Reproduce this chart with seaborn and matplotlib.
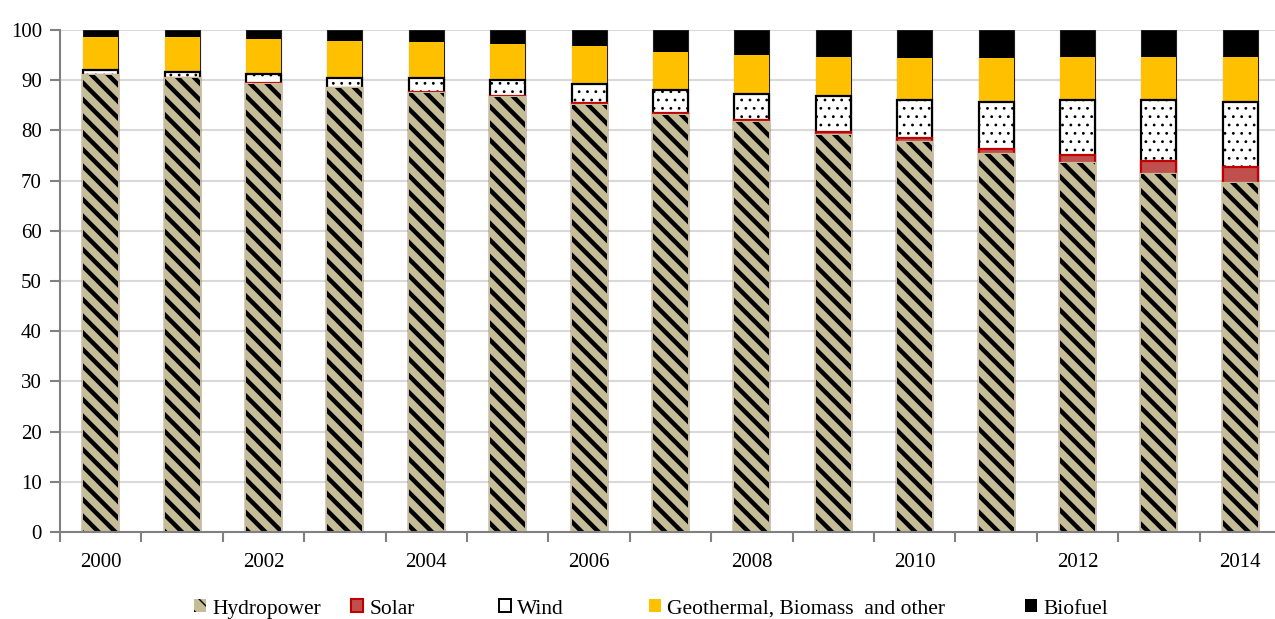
import numpy as np
import pandas as pd
import seaborn as sns
import matplotlib.pyplot as plt
from matplotlib.patches import Patch
from matplotlib.ticker import FixedLocator

###############################################################################
# Data (share of renewable sources, %)
###############################################################################
years = [str(y) for y in range(2000, 2015)]
hydro = [91.0, 90.4, 89.2, 88.4, 87.5, 86.7, 85.1, 83.1, 81.6, 79.1, 77.7, 75.2, 73.6, 71.3, 69.6]
solar = [0.1, 0.1, 0.3, 0.1, 0.1, 0.1, 0.3, 0.3, 0.4, 0.6, 0.7, 1.1, 1.5, 2.7, 3.2]
wind = [0.9, 1.2, 1.7, 1.9, 2.8, 3.2, 3.8, 4.6, 5.3, 7.1, 7.6, 9.4, 10.9, 12.0, 12.9]
geo = [6.6, 6.9, 7.0, 7.5, 7.3, 7.3, 7.7, 7.7, 7.7, 7.8, 8.4, 8.7, 8.7, 8.7, 9.0]
biofuel = [1.4, 1.4, 1.8, 2.1, 2.3, 2.7, 3.1, 4.3, 5.0, 5.4, 5.6, 5.6, 5.3, 5.3, 5.3]
labels = ['Hydropower', 'Solar', 'Wind', 'Geothermal, Biomass  and other', 'Biofuel']

df = pd.DataFrame({'year': years, 'hydro': hydro, 'solar': solar,
                   'wind': wind, 'geo': geo, 'biofuel': biofuel})
df['c_solar'] = df['hydro'] + df['solar']
df['c_wind'] = df['c_solar'] + df['wind']
df['c_geo'] = df['c_wind'] + df['geo']
df['c_bio'] = df['c_geo'] + df['biofuel']

TAN = '#C4BD97'
GOLD = '#FFC000'
SOLAR = '#C0504D'
SOLAR_EDGE = '#C00000'
GRAY = '#808080'
W = 0.43
LW = 1.6

plt.rcParams['font.family'] = ['Liberation Serif', 'DejaVu Serif']
fig = plt.figure(figsize=(12.75, 6.19), dpi=100)
ax = fig.add_axes([60 / 1275, 87 / 619, 1221 / 1275, 502 / 619])

common = dict(data=df, x='year', width=W, saturation=1, errorbar=None, ax=ax)
# stacked bars drawn from the top cumulative total downwards
sns.barplot(y='c_bio', color='black', edgecolor='#202020', linewidth=0.8, **common)
sns.barplot(y='c_geo', color=GOLD, linewidth=0, **common)
with plt.rc_context({'hatch.linewidth': 0.8}):
    sns.barplot(y='c_wind', color='white', edgecolor='black', linewidth=LW,
                hatch='..', **common)
sns.barplot(y='c_solar', color=SOLAR, edgecolor=SOLAR_EDGE, linewidth=LW, **common)
sns.barplot(y='hydro', color=TAN, edgecolor=TAN, linewidth=LW, **common)
with plt.rc_context({'hatch.linewidth': 3.2}):
    sns.barplot(y='hydro', color='none', edgecolor='black', linewidth=0,
                hatch='\\\\', **common)

ax.set_xlim(-0.5, len(years) - 0.5)
ax.set_ylim(0, 100)
ax.set_yticks(np.arange(0, 101, 10))
ax.set_xticks(range(0, len(years), 2))
ax.set_xticklabels(years[::2])
ax.xaxis.set_minor_locator(FixedLocator(np.arange(-0.5, len(years), 1)))
ax.tick_params(axis='x', which='major', length=0, pad=15, labelsize=15)
ax.tick_params(axis='x', which='minor', length=7, width=1.5, color=GRAY)
ax.tick_params(axis='y', length=7, width=1.5, color=GRAY, pad=6, labelsize=15)
ax.set_xlabel('')
ax.set_ylabel('')
ax.yaxis.grid(True, color='#D9D9D9', linewidth=1.5)
ax.set_axisbelow(True)
for s in ('top', 'right'):
    ax.spines[s].set_visible(False)
for s in ('left', 'bottom'):
    ax.spines[s].set_color(GRAY)
    ax.spines[s].set_linewidth(1.5)

###############################################################################
# Legend (one entry per box, placed like the original)
###############################################################################
with plt.rc_context({'hatch.linewidth': 2.5}):
    hydro_handle = Patch(facecolor=TAN, edgecolor='black', linewidth=0, hatch='\\\\')
handles = [
    hydro_handle,
    Patch(facecolor=SOLAR, edgecolor=SOLAR_EDGE, linewidth=1.5),
    Patch(facecolor='white', edgecolor='black', linewidth=1.4),
    Patch(facecolor=GOLD, edgecolor=GOLD, linewidth=0),
    Patch(facecolor='black', edgecolor='black', linewidth=0),
]
legend_x = [194, 351, 499, 649, 1025]
for h, lab, xp in zip(handles, labels, legend_x):
    fig.legend([h], [lab], loc='center left', bbox_to_anchor=(xp / 1275, 10 / 619),
               frameon=False, fontsize=15.5, handlelength=0.55, handleheight=0.55,
               handletextpad=0.3, borderpad=0, borderaxespad=0)

fig.savefig('out.png', dpi=100)
